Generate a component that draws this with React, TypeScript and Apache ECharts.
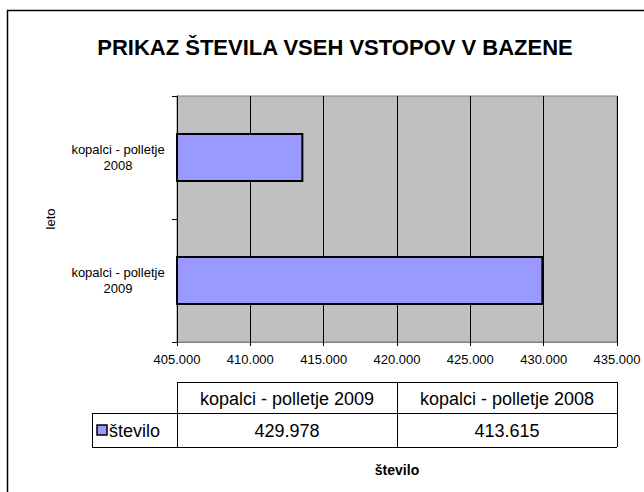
import React, { useEffect, useRef } from "react";
import * as echarts from "echarts";

const TITLE = "PRIKAZ ŠTEVILA VSEH VSTOPOV V BAZENE";
const categories = ["kopalci - polletje 2009", "kopalci - polletje 2008"];
const values = [429978, 413615];
const seriesName = "število";
const xAxisName = "število";
const yAxisName = "leto";
const xMin = 405000;
const xMax = 435000;
const xInterval = 5000;

const fmt = (v: number) =>
  Math.round(v).toString().replace(/\B(?=(\d{3})+(?!\d))/g, ".");

const FONT = "'Liberation Sans', Arial, Helvetica, sans-serif";

export default function App() {
  const ref = useRef<HTMLDivElement>(null);
  useEffect(() => {
    if (!ref.current) return;
    const chart = echarts.init(ref.current, undefined, { renderer: "svg" });

    const gl = 177, gr = 617, gt = 96, gb = 342;
    const tTop = 382, tMid = 413, tBot = 447;
    const legL = 92;
    const colW = (gr - gl) / categories.length;

    const tableEls: any[] = [];
    const lineStyle = { stroke: "#000", lineWidth: 1 };
    tableEls.push({ type: "line", shape: { x1: gl, y1: tTop + 0.5, x2: gr, y2: tTop + 0.5 }, style: lineStyle });
    tableEls.push({ type: "line", shape: { x1: legL, y1: tMid + 0.5, x2: gr, y2: tMid + 0.5 }, style: lineStyle });
    tableEls.push({ type: "line", shape: { x1: legL, y1: tBot + 0.5, x2: gr, y2: tBot + 0.5 }, style: lineStyle });
    tableEls.push({ type: "line", shape: { x1: legL + 0.5, y1: tMid, x2: legL + 0.5, y2: tBot }, style: lineStyle });
    for (let i = 0; i <= categories.length; i++) {
      const x = Math.round(gl + i * colW) + 0.5;
      tableEls.push({ type: "line", shape: { x1: x, y1: tTop, x2: x, y2: tBot }, style: lineStyle });
    }
    categories.forEach((c, i) => {
      const cx = gl + (i + 0.5) * colW;
      tableEls.push({
        type: "text",
        x: cx,
        y: (tTop + tMid) / 2 + 1,
        style: { text: c, font: `18px ${FONT}`, fill: "#000", align: "center", verticalAlign: "middle" },
      });
      tableEls.push({
        type: "text",
        x: cx,
        y: (tMid + tBot) / 2 + 1,
        style: { text: fmt(values[i]), font: `18px ${FONT}`, fill: "#000", align: "center", verticalAlign: "middle" },
      });
    });
    tableEls.push({
      type: "rect",
      shape: { x: 97, y: 425, width: 10, height: 10 },
      style: { fill: "#9999FF", stroke: "#000", lineWidth: 1.5 },
    });
    tableEls.push({
      type: "text",
      x: 109,
      y: (tMid + tBot) / 2 + 1,
      style: { text: seriesName, font: `18px ${FONT}`, fill: "#000", align: "left", verticalAlign: "middle" },
    });
    tableEls.push({
      type: "rect",
      shape: { x: 7.5, y: 10.5, width: 700, height: 600 },
      style: { fill: "none", stroke: "#000", lineWidth: 1.5 },
    });

    chart.setOption({
      animation: false,
      backgroundColor: "#fff",
      textStyle: { fontFamily: FONT },
      title: {
        text: TITLE,
        left: 330,
        top: 31,
        textAlign: "center",
        textStyle: { fontSize: 22, fontWeight: "bold", color: "#000", fontFamily: FONT },
      },
      grid: {
        left: gl,
        right: 644 - gr,
        top: gt,
        bottom: 492 - gb,
        show: true,
        backgroundColor: "#C0C0C0",
        borderColor: "#808080",
        borderWidth: 1,
      },
      xAxis: {
        type: "value",
        min: xMin,
        max: xMax,
        interval: xInterval,
        name: xAxisName,
        nameLocation: "middle",
        nameGap: 121,
        nameTextStyle: { fontSize: 14, fontWeight: "bold", color: "#000", fontFamily: FONT },
        axisLine: { show: true, lineStyle: { color: "#808080", width: 1 } },
        axisTick: { show: true, length: 4, lineStyle: { color: "#000" } },
        axisLabel: { formatter: (v: number) => fmt(v), fontSize: 13, color: "#000", margin: 11, fontFamily: FONT },
        splitLine: { show: true, lineStyle: { color: "#000", width: 1 } },
      },
      yAxis: {
        type: "category",
        data: categories,
        name: yAxisName,
        nameLocation: "middle",
        nameGap: 120,
        nameRotate: 90,
        nameTextStyle: { fontSize: 13, fontWeight: "normal", color: "#000", fontFamily: FONT },
        axisLine: { show: true, lineStyle: { color: "#000", width: 1 } },
        axisTick: { show: true, length: 5, lineStyle: { color: "#000" } },
        axisLabel: {
          formatter: (v: string) => v.replace(/ (\S+)$/, "\n$1"),
          fontSize: 13,
          lineHeight: 16,
          align: "center",
          margin: 59,
          color: "#000",
          fontFamily: FONT,
        },
        splitLine: { show: false },
      },
      series: [
        {
          type: "bar",
          name: seriesName,
          data: values,
          barWidth: 49,
          itemStyle: { color: "#9999FF", borderColor: "#000", borderWidth: 2 },
        },
      ],
      graphic: tableEls,
    });
    return () => chart.dispose();
  }, []);
  return (
    <div
      ref={ref}
      style={{ position: "fixed", left: 0, top: 0, width: 644, height: 492 }}
    />
  );
}
